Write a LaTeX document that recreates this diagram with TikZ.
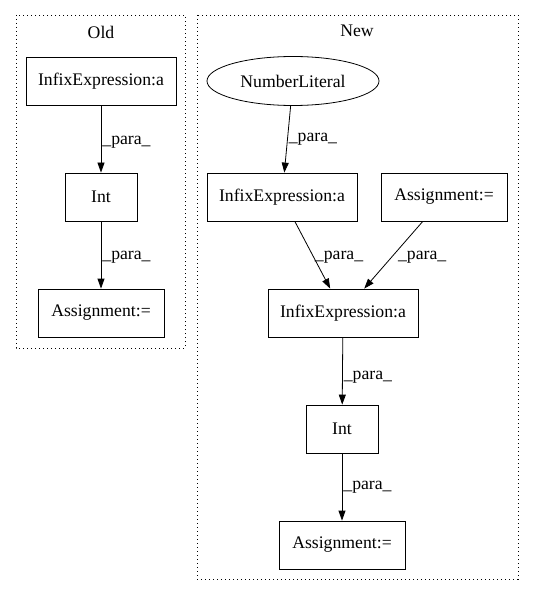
\documentclass[tikz,border=0pt]{standalone}
\usepackage{fontspec}
\setmainfont{Liberation Serif}
\usetikzlibrary{arrows.meta}
\usetikzlibrary{shapes.geometric}

\begin{document}
\begin{tikzpicture}[x=1pt, y=-1pt, >={Triangle[length=10pt, width=7pt]},
    font=\fontsize{17.7pt}{20pt}\selectfont, line width=0.8pt,
    box/.style={draw, rectangle, minimum height=48pt, inner sep=0pt},
    cluster/.style={draw, dash pattern=on 1pt off 3pt},
    lbl/.style={right, inner sep=1pt}]
    \useasboundingbox (0,0) rectangle (533,596);

    % Old
    \draw[cluster] (16,15) rectangle (185,348);
    \node (oldtitle) at (101,32) {Old};
    \node[box, minimum width=150pt] (oldinfix) at (101,81) {InfixExpression:a};
    \node[box, minimum width=72pt] (oldint) at (101,197) {Int};
    \node[box, minimum width=126pt] (oldassign) at (101,313) {Assignment:=};

    \draw[->] (oldinfix) -- node[lbl, pos=0.55] (oldp1) {\_para\_} (oldint);
    \draw[->] (oldint) -- node[lbl, pos=0.54] (oldp2) {\_para\_} (oldassign);

    % New
    \draw[cluster] (197,15) rectangle (518,579);
    \node (newtitle) at (357,31) {New};
    \node[draw, ellipse, minimum width=172pt, minimum height=49pt, inner sep=0pt] (number) at (293,81) {NumberLiteral};
    \node[box, minimum width=150pt] (infixa) at (282,197) {InfixExpression:a};
    \node[box, minimum width=126pt] (assigna) at (444,197) {Assignment:=};
    \node[box, minimum width=150pt] (infixb) at (343,313) {InfixExpression:a};
    \node[box, minimum width=72pt] (newint) at (342,429) {Int};
    \node[box, minimum width=126pt] (assignb) at (342,545) {Assignment:=};

    \draw[->] (number) -- node[lbl, pos=0.5] (newp1) {\_para\_} (infixa);
    \draw[->] (infixa) -- node[lbl, pos=0.53] (newp2) {\_para\_} (infixb);
    \draw[->] (assigna) -- node[lbl, pos=0.53, xshift=5pt] (newp3) {\_para\_} (infixb);
    \draw[->] (infixb) -- node[lbl, pos=0.59] (newp4) {\_para\_} (newint);
    \draw[->] (newint) -- node[lbl, pos=0.51] (newp5) {\_para\_} (assignb);

\end{tikzpicture}
\end{document}
